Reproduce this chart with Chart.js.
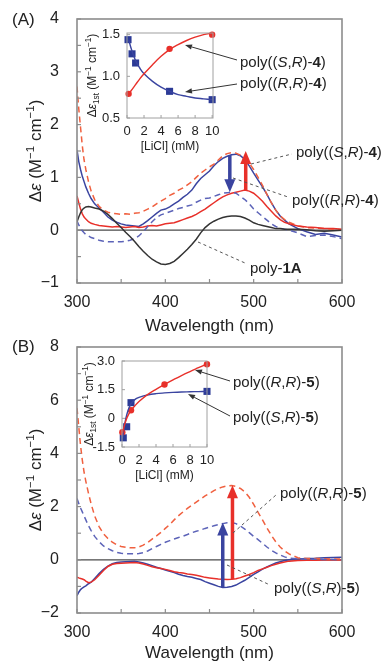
<!DOCTYPE html>
<html>
<head>
<meta charset="utf-8">
<script src="https://cdn.jsdelivr.net/npm/chart.js@4.4.1/dist/chart.umd.min.js"></script>
<style>
  html, body { margin:0; padding:0; background:#fff; }
  #wrap { position:relative; width:382px; height:662px; overflow:hidden; }
  canvas { position:absolute; left:0; }
</style>
</head>
<body>
<div id="wrap">
  <canvas id="mainA" width="382" height="345" style="top:0"></canvas>
  <canvas id="insetA" width="382" height="331" style="top:0"></canvas>
  <canvas id="mainB" width="382" height="331" style="top:331px"></canvas>
  <canvas id="insetB" width="382" height="331" style="top:331px"></canvas>
</div>
<script>
// wavelength grid (nm) shared by all spectra
const wl = [300,302,304,306,308,310,313,316,320,
  325,330,335,340,345,350,355,360,365,370,
  375,380,385,390,395,400,405,410,415,420,
  425,430,435,440,445,450,455,460,465,470,
  475,480,485,490,495,500,505,510,515,520,
  525,530,535,540,
  550,560,570,580,590,600];

// panel A spectra
const sr4LiCl = [2.72,2.30,1.95,1.60,1.33,1.15,0.92,0.74,0.58,
  0.45,0.38,0.34,0.32,0.31,0.30,0.31,0.30,0.32,0.33,
  0.36,0.40,0.44,0.50,0.55,0.60,0.66,0.70,0.76,0.80,
  0.86,0.92,1.00,1.08,1.14,1.20,1.25,1.33,1.41,1.45,
  1.47,1.46,1.42,1.36,1.27,1.15,1.00,0.85,0.68,0.52,
  0.38,0.27,0.20,0.15,
  0.08,0.05,0.04,0.03,0.02,0.01];
const rr4Free = [1.52,1.30,1.15,1.02,0.92,0.82,0.70,0.60,0.50,
  0.42,0.34,0.25,0.19,0.15,0.12,0.10,0.09,0.08,0.07,
  0.12,0.18,0.25,0.32,0.38,0.40,0.44,0.50,0.55,0.62,
  0.68,0.76,0.88,0.98,1.05,1.12,1.22,1.30,1.36,1.40,
  1.43,1.44,1.41,1.34,1.22,1.08,0.95,0.82,0.68,0.52,
  0.38,0.27,0.19,0.12,
  0.03,-0.03,-0.08,-0.06,-0.09,-0.13];
const sr4Free = [0.65,0.52,0.40,0.31,0.25,0.21,0.16,0.13,0.11,
  0.09,0.08,0.07,0.06,0.07,0.06,0.05,0.06,0.07,0.05,
  0.06,0.08,0.09,0.08,0.10,0.12,0.13,0.14,0.17,0.20,
  0.23,0.26,0.30,0.35,0.40,0.46,0.52,0.58,0.63,0.67,
  0.70,0.72,0.74,0.76,0.74,0.70,0.63,0.55,0.45,0.36,
  0.27,0.20,0.15,0.12,
  0.08,0.06,0.05,0.03,0.03,0.02];
const rr4LiCl = [0.18,0.10,0.04,-0.01,-0.05,-0.08,-0.11,-0.14,-0.16,
  -0.19,-0.21,-0.22,-0.22,-0.22,-0.22,-0.21,-0.19,-0.16,-0.11,
  -0.03,0.07,0.16,0.24,0.29,0.32,0.35,0.38,0.41,0.43,
  0.46,0.48,0.53,0.57,0.60,0.61,0.64,0.67,0.70,0.71,
  0.72,0.70,0.64,0.58,0.50,0.40,0.33,0.26,0.19,0.12,
  0.07,0.04,0.02,0.00,
  -0.05,-0.12,-0.10,-0.09,-0.12,-0.16];
const poly1A = [0.16,0.25,0.33,0.39,0.42,0.44,0.45,0.44,0.42,
  0.40,0.36,0.30,0.22,0.13,0.05,-0.04,-0.12,-0.21,-0.31,
  -0.40,-0.48,-0.55,-0.60,-0.64,-0.65,-0.63,-0.59,-0.52,-0.44,
  -0.36,-0.27,-0.17,-0.05,0.05,0.12,0.17,0.21,0.24,0.26,
  0.27,0.27,0.26,0.23,0.19,0.14,0.11,0.09,0.07,0.05,
  0.03,0.03,0.02,0.02,
  0.02,0.01,-0.01,-0.02,-0.01,0.00];

// panel B spectra
const rr5LiCl = [5.70,5.00,4.30,3.75,3.30,2.95,2.50,2.10,1.65,
  1.25,0.98,0.80,0.66,0.56,0.50,0.47,0.45,0.45,0.48,
  0.55,0.65,0.78,0.90,1.03,1.18,1.33,1.50,1.66,1.80,
  1.93,2.05,2.17,2.28,2.40,2.50,2.60,2.68,2.74,2.78,
  2.79,2.76,2.68,2.55,2.35,2.08,1.78,1.50,1.20,0.92,
  0.68,0.48,0.33,0.22,
  0.08,0.05,0.05,0.04,0.03,0.03];
const sr5LiCl = [2.30,2.12,1.95,1.80,1.65,1.50,1.28,1.10,0.88,
  0.68,0.52,0.42,0.34,0.28,0.25,0.23,0.23,0.22,0.24,
  0.27,0.33,0.42,0.50,0.58,0.66,0.72,0.78,0.84,0.89,
  0.95,1.02,1.07,1.12,1.18,1.23,1.28,1.32,1.36,1.39,
  1.40,1.36,1.27,1.15,1.02,0.88,0.76,0.62,0.48,0.36,
  0.26,0.18,0.11,0.07,
  0.03,0.02,0.02,0.01,0.01,0.00];
const rr5Free = [-0.65,-0.68,-0.70,-0.72,-0.75,-0.80,-0.86,-0.84,-0.75,
  -0.58,-0.40,-0.25,-0.17,-0.14,-0.13,-0.12,-0.11,-0.10,-0.12,
  -0.16,-0.21,-0.26,-0.30,-0.33,-0.36,-0.40,-0.45,-0.48,-0.50,
  -0.53,-0.55,-0.58,-0.62,-0.66,-0.68,-0.70,-0.72,-0.73,-0.74,
  -0.73,-0.71,-0.67,-0.61,-0.55,-0.48,-0.40,-0.34,-0.28,-0.22,
  -0.17,-0.12,-0.08,-0.05,
  -0.03,-0.02,-0.02,-0.01,-0.01,-0.01];
const sr5Free = [-1.35,-1.22,-1.12,-1.06,-1.02,-0.98,-0.90,-0.84,-0.70,
  -0.52,-0.36,-0.24,-0.15,-0.10,-0.08,-0.07,-0.06,-0.05,-0.08,
  -0.12,-0.17,-0.22,-0.28,-0.33,-0.38,-0.43,-0.48,-0.54,-0.59,
  -0.63,-0.66,-0.70,-0.74,-0.82,-0.88,-0.94,-1.00,-1.04,-1.03,
  -1.00,-0.95,-0.86,-0.77,-0.66,-0.55,-0.45,-0.35,-0.27,-0.19,
  -0.12,-0.07,-0.03,0.00,
  0.03,0.05,0.06,0.08,0.09,0.10];

// arrows: wavelength, start value, end value
const arrowWlA = [473, 491], arrowFromA = [1.42, 0.76], arrowToA = [0.72, 1.50];
const arrowWlB = [465, 476], arrowFromB = [-1.04, -0.73], arrowToB = [1.40, 2.80];

// inset A: [LiCl] (mM) vs first Cotton intensity
const licA = [0.12, 0.59, 1.01, 5, 10];
const rr4Pts = [1.44, 1.27, 1.16, 0.82, 0.72];
const licA_sr = [0.19, 5, 10];
const sr4Pts = [0.79, 1.33, 1.50];
const fitXA = [0.2,0.5,1,1.5,2,3,4,5,6,7,8,9,10];
const sr4Fit = [0.79,0.83,0.90,0.97,1.03,1.14,1.24,1.32,1.38,1.43,1.47,1.50,1.52];
const rr4Fit = [1.44,1.33,1.19,1.10,1.03,0.94,0.87,0.82,0.78,0.76,0.74,0.73,0.72];

// inset B
const licB_rr = [0.04, 1.06, 5, 10];
const rr5Pts = [-0.73, 0.42, 1.77, 2.83];
const licB_sr = [0.15, 0.55, 1.06, 10];
const sr5Pts = [-1.02, -0.44, 0.82, 1.41];
const fitXB = [0.05,0.3,0.6,1,1.5,2,3,4,5,6,7,8,9,10];
const rr5Fit = [-0.78,-0.35,0.05,0.38,0.65,0.88,1.24,1.52,1.77,2.01,2.24,2.45,2.65,2.85];
const sr5Fit = [-1.05,-0.35,0.25,0.72,0.98,1.10,1.22,1.29,1.33,1.36,1.38,1.39,1.40,1.41];

// ticks
const xTicksMain = [300,350,400,450,500,550,600];
const xLabelsMain = [300,400,500,600];
const yTicksA = [-1,-0.5,0,0.5,1,1.5,2,2.5,3,3.5,4];
const yLabelsA = [-1,0,1,2,3,4];
const yTicksB = [-2,-1,0,1,2,3,4,5,6,7,8];
const yLabelsB = [-2,0,2,4,6,8];
const xLabelsIn = [0,2,4,6,8,10];
const yLabelsInA = [0.5,1.0,1.5];
const yLabelsInB = [-1.5,0,1.5,3.0];

const RED = '#e8302a', RED_D = '#f0603f', BLUE = '#3a44a0', BLUE_D = '#5c63b8', BLACK = '#333';
const TXT = '#222';
const FONT = '"Liberation Sans", Arial, Helvetica, sans-serif';

function font(size, it, b){ return (it ? 'italic ' : '') + (b ? 'bold ' : '') + size + 'px ' + FONT; }
function fmt(v){ return v < 0 ? '\u2212' + Math.abs(v) : String(v); }
function pts(xs, ys){ return xs.map((x, i) => ({ x, y: ys[i] })); }
function line(ctx, x0, y0, x1, y1){ ctx.beginPath(); ctx.moveTo(x0, y0); ctx.lineTo(x1, y1); ctx.stroke(); }

function spec(ys, color, dashed){
  return { data: pts(wl, ys), borderColor: color, borderWidth: 1.5, borderDash: dashed ? [6, 4] : [],
    pointRadius: 0, fill: false, tension: 0 };
}

// rich text: segments with italic / bold / sup / sub
function segSize(s, size){ return (s.sup || s.sub) ? size * 0.68 : size; }
function richWidth(ctx, segs, size){
  let w = 0;
  segs.forEach(s => { ctx.font = font(segSize(s, size), s.i, s.b); w += ctx.measureText(s.t).width; });
  return w;
}
function drawRich(ctx, segs, x, y, size, align, rot){
  ctx.save();
  ctx.translate(x, y);
  if(rot) ctx.rotate(rot);
  const w = richWidth(ctx, segs, size);
  let cx = align === 'center' ? -w / 2 : align === 'right' ? -w : 0;
  ctx.textAlign = 'left'; ctx.textBaseline = 'alphabetic'; ctx.fillStyle = TXT;
  segs.forEach(s => {
    const fs = segSize(s, size);
    ctx.font = font(fs, s.i, s.b);
    let dy = size * 0.36;
    if(s.sup) dy -= size * 0.42;
    if(s.sub) dy += size * 0.22;
    ctx.fillText(s.t, cx, dy);
    cx += ctx.measureText(s.t).width;
  });
  ctx.restore();
}
function polyLbl(a, b, n){
  return [{t:'poly(('}, {t:a, i:1}, {t:','}, {t:b, i:1}, {t:')-'}, {t:n, b:1}, {t:')'}];
}
const yTitle = [{t:'\u0394'}, {t:'\u03b5', i:1}, {t:' (M'}, {t:'\u22121', sup:1}, {t:' cm'}, {t:'\u22121', sup:1}, {t:')'}];
const yTitleIn = [{t:'\u0394'}, {t:'\u03b5', i:1}, {t:'1st', sub:1}, {t:' (M'}, {t:'\u22121', sup:1}, {t:' cm'}, {t:'\u22121', sup:1}, {t:')'}];

function bigArrow(ctx, x, y0, y1, color){
  const dir = y1 < y0 ? -1 : 1, head = 13, hw = 5.5;
  ctx.strokeStyle = color; ctx.fillStyle = color; ctx.lineWidth = 3.5;
  line(ctx, x, y0, x, y1 - dir * (head - 2));
  ctx.beginPath(); ctx.moveTo(x, y1); ctx.lineTo(x - hw, y1 - dir * head); ctx.lineTo(x + hw, y1 - dir * head); ctx.closePath(); ctx.fill();
}
function thinArrow(ctx, x0, y0, x1, y1){
  const ang = Math.atan2(y1 - y0, x1 - x0), L = 7, W = 2.6;
  ctx.strokeStyle = '#333'; ctx.fillStyle = '#333'; ctx.lineWidth = 1;
  line(ctx, x0, y0, x1 - Math.cos(ang) * L, y1 - Math.sin(ang) * L);
  ctx.beginPath(); ctx.moveTo(x1, y1);
  ctx.lineTo(x1 - Math.cos(ang) * L - Math.sin(ang) * W, y1 - Math.sin(ang) * L + Math.cos(ang) * W);
  ctx.lineTo(x1 - Math.cos(ang) * L + Math.sin(ang) * W, y1 - Math.sin(ang) * L - Math.cos(ang) * W);
  ctx.closePath(); ctx.fill();
}

function mainDeco(p){
  return {
    id: 'mainDeco',
    beforeDatasetsDraw(chart){
      const { ctx, chartArea: a } = chart, y = chart.scales.y;
      const y0 = y.getPixelForValue(0);
      ctx.save(); ctx.strokeStyle = '#4a4a4a'; ctx.lineWidth = 1.3;
      line(ctx, a.left, y0, a.right, y0);
      ctx.restore();
    },
    afterDatasetsDraw(chart){
      const { ctx, chartArea: a } = chart, x = chart.scales.x, y = chart.scales.y;
      ctx.save();
      ctx.strokeStyle = '#8c8c8c'; ctx.lineWidth = 1.6;
      ctx.strokeRect(a.left, a.top, a.right - a.left, a.bottom - a.top);
      ctx.lineWidth = 1.2;
      xTicksMain.forEach(v => { const px = x.getPixelForValue(v); line(ctx, px, a.bottom, px, a.bottom - 4); });
      p.yTicks.forEach(v => { const py = y.getPixelForValue(v); line(ctx, a.left, py, a.left + 4, py); });

      ctx.fillStyle = TXT; ctx.font = font(16); ctx.textBaseline = 'middle';
      ctx.textAlign = 'center';
      xLabelsMain.forEach(v => ctx.fillText(String(v), x.getPixelForValue(v), a.bottom + 20));
      ctx.textAlign = 'right';
      p.yLabels.forEach(v => ctx.fillText(fmt(v), a.left - 18, y.getPixelForValue(v)));
      ctx.font = font(17); ctx.textAlign = 'center';
      ctx.fillText('Wavelength (nm)', (a.left + a.right) / 2, a.bottom + p.titleGap);
      ctx.textAlign = 'left';
      ctx.fillText(p.letter, 12, p.letterY);
      drawRich(ctx, yTitle, 35, (a.top + a.bottom) / 2, 17, 'center', -Math.PI / 2);

      p.arrowWl.forEach((w, i) => bigArrow(ctx, x.getPixelForValue(w), y.getPixelForValue(p.arrowFrom[i]),
        y.getPixelForValue(p.arrowTo[i]), p.arrowColors[i]));

      ctx.strokeStyle = '#555'; ctx.lineWidth = 1; ctx.setLineDash([3, 3]);
      p.notes.forEach(n => line(ctx, n.from[0], n.from[1], n.to[0], n.to[1]));
      ctx.setLineDash([]);
      p.notes.forEach(n => drawRich(ctx, n.segs, n.at[0], n.at[1], 15, 'left'));
      ctx.restore();
    }
  };
}

function insetDeco(p){
  return {
    id: 'insetDeco',
    afterDatasetsDraw(chart){
      const { ctx, chartArea: a } = chart, x = chart.scales.x, y = chart.scales.y;
      ctx.save();
      ctx.strokeStyle = '#a0a0a0'; ctx.lineWidth = 1;
      ctx.strokeRect(a.left, a.top, a.right - a.left, a.bottom - a.top);
      xLabelsIn.forEach(v => { const px = x.getPixelForValue(v); line(ctx, px, a.bottom, px, a.bottom - 3); });
      p.yLabels.forEach(v => { const py = y.getPixelForValue(v); line(ctx, a.left, py, a.left + 3, py); });
      ctx.fillStyle = TXT; ctx.font = font(13); ctx.textBaseline = 'middle';
      ctx.textAlign = 'center';
      xLabelsIn.forEach(v => ctx.fillText(String(v), x.getPixelForValue(v), a.bottom + 13));
      ctx.textAlign = 'right';
      p.yLabels.forEach(v => ctx.fillText(p.yFmt(v), a.left - 7, y.getPixelForValue(v)));
      ctx.font = font(12); ctx.textAlign = 'center';
      ctx.fillText('[LiCl] (mM)', (a.left + a.right) / 2, a.bottom + 29);
      drawRich(ctx, yTitleIn, p.titleX, (a.top + a.bottom) / 2, 12, 'center', -Math.PI / 2);
      p.notes.forEach(n => { thinArrow(ctx, n.from[0], n.from[1], n.to[0], n.to[1]); drawRich(ctx, n.segs, n.at[0], n.at[1], 15, 'left'); });
      ctx.restore();
    }
  };
}

function mainChart(id, datasets, yMin, yMax, pad, deco){
  return new Chart(document.getElementById(id), {
    type: 'line',
    data: { datasets },
    options: {
      responsive: false, animation: false, devicePixelRatio: 1,
      layout: { padding: pad },
      plugins: { legend: { display: false }, tooltip: { enabled: false } },
      scales: {
        x: { type: 'linear', min: 300, max: 600, display: false },
        y: { type: 'linear', min: yMin, max: yMax, display: false }
      }
    },
    plugins: [deco]
  });
}

function insetChart(id, datasets, xMax, yMin, yMax, pad, deco){
  return new Chart(document.getElementById(id), {
    type: 'line',
    data: { datasets },
    options: {
      responsive: false, animation: false, devicePixelRatio: 1,
      layout: { padding: pad },
      plugins: { legend: { display: false }, tooltip: { enabled: false } },
      scales: {
        x: { type: 'linear', min: 0, max: xMax, display: false },
        y: { type: 'linear', min: yMin, max: yMax, display: false }
      }
    },
    plugins: [deco]
  });
}

function fitSet(xs, ys, color){
  return { data: pts(xs, ys), borderColor: color, borderWidth: 1.4, pointRadius: 0, fill: false, tension: 0.4, clip: false };
}
function markSet(xs, ys, color, style, r){
  return { data: pts(xs, ys), showLine: false, pointStyle: style, pointRadius: r, pointBackgroundColor: color,
    pointBorderColor: color, pointBorderWidth: 0, clip: false };
}

mainChart('mainA', [
  spec(poly1A, BLACK, false),
  spec(rr4LiCl, BLUE_D, true),
  spec(sr4Free, RED, false),
  spec(sr4LiCl, RED_D, true),
  spec(rr4Free, BLUE, false)
], -1, 4, { left: 77, top: 19, right: 40, bottom: 62 }, mainDeco({
  yTicks: yTicksA, yLabels: yLabelsA, titleGap: 43, letter: '(A)', letterY: 20,
  arrowWl: arrowWlA, arrowFrom: arrowFromA, arrowTo: arrowToA, arrowColors: [BLUE, RED],
  notes: [
    { segs: polyLbl('S', 'R', '4'), at: [296, 152], from: [251, 164], to: [292, 154] },
    { segs: polyLbl('R', 'R', '4'), at: [292, 200], from: [233, 178], to: [288, 197] },
    { segs: [{t:'poly-'}, {t:'1A', b:1}], at: [250, 268], from: [198, 242], to: [245, 263] }
  ]
}));

insetChart('insetA', [
  fitSet(fitXA, sr4Fit, RED),
  fitSet(fitXA, rr4Fit, BLUE),
  markSet(licA_sr, sr4Pts, '#e8302a', 'circle', 3.2),
  markSet(licA, rr4Pts, '#2b3a96', 'rect', 5)
], 10.1, 0.5, 1.52, { left: 127, top: 33, right: 169, bottom: 213 }, insetDeco({
  yLabels: yLabelsInA, yFmt: v => v.toFixed(1), titleX: 92,
  notes: [
    { segs: polyLbl('S', 'R', '4'), at: [240, 62], from: [237, 60], to: [185, 45] },
    { segs: polyLbl('R', 'R', '4'), at: [240, 83], from: [237, 84], to: [185, 92] }
  ]
}));

mainChart('mainB', [
  spec(sr5LiCl, BLUE_D, true),
  spec(rr5LiCl, RED_D, true),
  spec(rr5Free, RED, false),
  spec(sr5Free, BLUE, false)
], -2, 8, { left: 77, top: 16, right: 40, bottom: 49 }, mainDeco({
  yTicks: yTicksB, yLabels: yLabelsB, titleGap: 40, letter: '(B)', letterY: 16,
  arrowWl: arrowWlB, arrowFrom: arrowFromB, arrowTo: arrowToB, arrowColors: [BLUE, RED],
  notes: [
    { segs: polyLbl('R', 'R', '5'), at: [280, 162], from: [233, 202], to: [276, 164] },
    { segs: polyLbl('S', 'R', '5'), at: [274, 257], from: [227, 234], to: [270, 254] }
  ]
}));

insetChart('insetB', [
  fitSet(fitXB, rr5Fit, RED),
  fitSet(fitXB, sr5Fit, BLUE),
  markSet(licB_rr, rr5Pts, '#e8302a', 'circle', 3.2),
  markSet(licB_sr, sr5Pts, '#2b3a96', 'rect', 5)
], 10, -1.5, 3.0, { left: 122, top: 30, right: 175, bottom: 215 }, insetDeco({
  yLabels: yLabelsInB, yFmt: v => (v === 0 ? '0' : v.toFixed(1)), titleX: 89,
  notes: [
    { segs: polyLbl('R', 'R', '5'), at: [233, 51], from: [230, 50], to: [195, 39] },
    { segs: polyLbl('S', 'R', '5'), at: [233, 86], from: [230, 85], to: [188, 63] }
  ]
}));
</script>
</body>
</html>
